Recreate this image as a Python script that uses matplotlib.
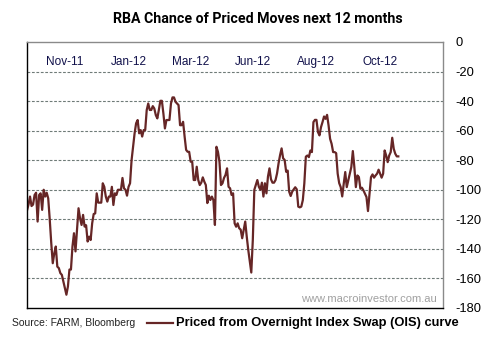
import numpy as np
import matplotlib
matplotlib.use("Agg")
import matplotlib.pyplot as plt

# RBA priced moves (bp), daily
priced = [
    -114, -110, -104.6, -111, -110, -103.5, -102, -121.5, -103.5, -102.4, -113.6, -100,
    -104.6, -102, -105.8, -120, -136, -149.7, -143, -138.4, -152, -153, -156.4, -157.6,
    -162, -166.6, -171, -165.5, -154, -154, -138.4, -129.4, -141.7, -127, -112.5, -119.3,
    -123.8, -117, -124.9, -124, -135, -131.7, -134, -122.7, -116.4, -116, -102.4, -108.7,
    -108.7, -108.7, -95.6, -98, -104.6, -108, -104.6, -104.6, -98, -110.3, -102.4,
    -103.5, -100, -100, -100, -92, -99, -100, -104, -98, -95.6, -80, -70.9, -61.8, -55,
    -52.8, -61.8, -59.6, -64, -59.6, -59.6, -46, -41.6, -46, -46, -43.4, -45, -49.5,
    -51.7, -46, -39.8, -39.8, -48.4, -58.5, -52.8, -52.8, -52.8, -41.6, -37.5, -37.5,
    -40.5, -41.6, -42.7, -56.3, -56.3, -54, -64, -73, -74.3, -74.3, -81, -81, -93.4,
    -93.4, -84.4, -93.4, -96.8, -95.2, -91.6, -94.5, -96.8, -109, -104, -106.9,
    -104.6, -107, -123.8, -70.9, -74.3, -81, -96.8, -95.6, -92, -89.9, -85.5, -98, -99,
    -103.5, -102.4, -122.7, -125, -122.7, -126, -127, -132.8, -127, -121.5, -131.7,
    -140.7, -148.6, -156, -134, -100, -96.8, -93.4, -98, -100, -95.2, -104.6, -95.6,
    -102.4, -91.1, -85.5, -92.9, -95.2, -95.2, -93.4, -88.9, -82.1, -76.5, -72, -78.7,
    -79.8, -87.8, -87, -101.3, -104.2, -101.3, -99.7, -98.3, -99.7, -111.4, -111.9,
    -111.4, -107,
    -95.6, -77.6, -76.8, -77.9, -73.4, -74.5, -54.2, -52.7, -52.7, -61, -63.2, -57.6,
    -54.2, -50.4, -52, -49.3, -56.5, -65.5, -68.9, -74.5, -74.5, -75.2, -89.1, -95.5,
    -98.2, -104.5, -95.9, -88, -98.2, -93.6, -89.1, -84.6, -73.8, -84.6, -98.2, -90.3,
    -91.4, -99.3, -98.6, -100.4, -102.7, -104.9, -114.4, -102.7, -91.4, -89.6, -91.8,
    -90.3, -89.1, -86.4, -89.1, -91.8, -89.1, -73.4, -76.8, -81.3, -76.8, -74.5, -64.8,
    -72.3, -75.6, -77.4, -77.4,
]
month_labels = ["Nov-11", "Jan-12", "Mar-12", "Jun-12", "Aug-12", "Oct-12"]
month_pos = [25, 67, 108, 149, 191, 233]
y_ticks = list(range(0, -181, -20))

line_col = "#662626"

fig = plt.figure(figsize=(4.84, 3.45), dpi=100)
ax = fig.add_axes([27 / 484, 37 / 345, 416 / 484, 266 / 345])

x = np.arange(len(priced))
ax.plot(x, priced, color=line_col, lw=1.6, solid_joinstyle="round")

ax.set_xlim(0, 274.5)
ax.set_ylim(-180, 0)

# y axis on the right
ax.yaxis.tick_right()
ax.set_yticks(y_ticks)
ax.set_yticklabels([str(v) for v in y_ticks], fontsize=9.3, family="Liberation Sans")
ax.tick_params(axis="y", length=0, pad=9)

# month labels sit inside the top of the plot
ax.xaxis.tick_top()
ax.set_xticks(month_pos)
ax.set_xticklabels(month_labels, fontsize=8.5, family="Liberation Sans", color="#10104a")
ax.tick_params(axis="x", length=0, pad=-19)

for v in y_ticks[1:-1]:
    ax.axhline(v, color="#6f7b78", lw=0.8, ls=(0, (2.5, 1.5)), zorder=0)

ax.spines["left"].set_color("black")
ax.spines["bottom"].set_color("black")
ax.spines["top"].set_color("#8a8a8a")
ax.spines["right"].set_color("#8a8a8a")
for s in ax.spines.values():
    s.set_linewidth(1.0)

ax.text(0.985, 0.015, "www.macroinvestor.com.au", transform=ax.transAxes,
        ha="right", va="bottom", fontsize=8, color="#a0a0a0", family="Liberation Sans")

fig.text(258 / 484, 1 - 19 / 345, "RBA Chance of Priced Moves next 12 months", ha="center",
         va="center", fontsize=10.2, fontweight="bold", family="Roboto")

fig.text(12 / 484, 1 - 323 / 345, "Source: FARM, Bloomberg", ha="left", va="center",
         fontsize=7.5, family="Liberation Sans", color="#222222")
fig.add_artist(plt.Line2D([147 / 484, 173 / 484], [1 - 323 / 345, 1 - 323 / 345],
                          color=line_col, lw=1.6))
fig.text(176 / 484, 1 - 323 / 345, "Priced from Overnight Index Swap (OIS) curve",
         ha="left", va="center", fontsize=9.3, fontweight="bold", family="Liberation Sans")

fig.savefig("out.png", dpi=100)
